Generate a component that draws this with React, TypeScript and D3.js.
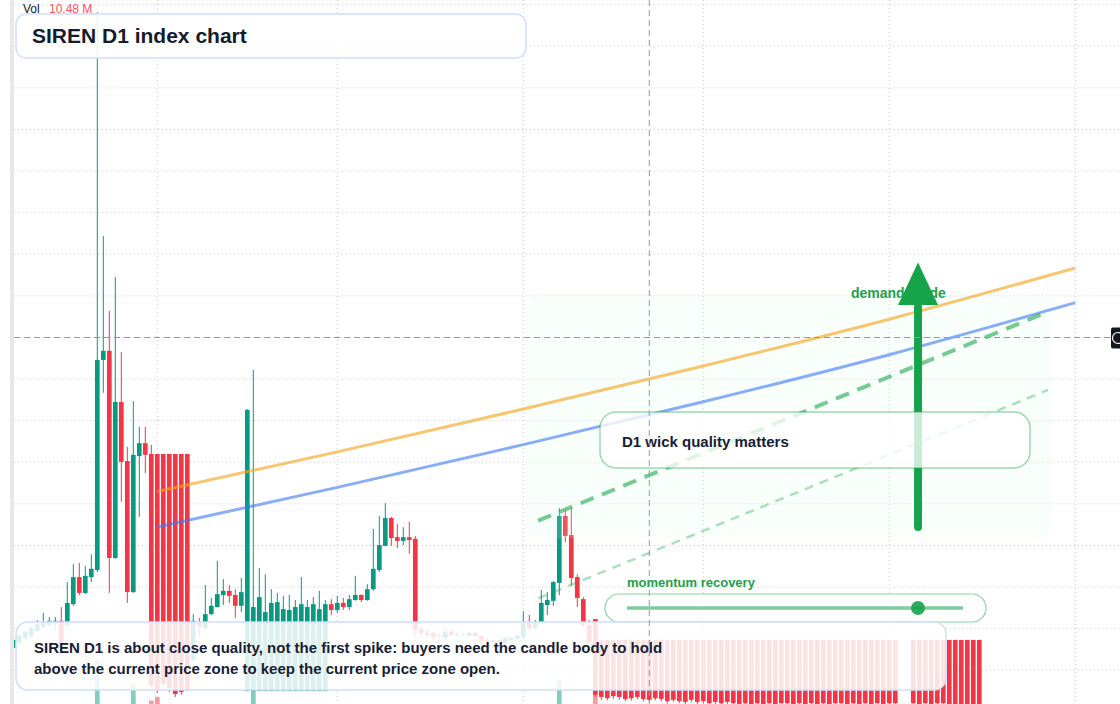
import React, { useEffect } from "react";
import * as d3 from "d3";

const WIDTH = 1120;
const HEIGHT = 704;

// daily candles, first session 2024-08-08 (UTC), one candle per day
const firstDay = "2024-08-08T00:00:00Z";

const opens = [
  25.4, 26.6, 27.8, 28.3, 29.4, 30.4, 30.9, 31.4, 31.9, 30.9,
  35.9, 42.4, 38.6, 42.4, 44.1, 94.6, 96.8, 47.0, 84.5, 70.3,
  38.8, 71.5, 74.6, 72.0, 72.0, 72.0, 72.0, 72.0, 72.0, 72.0,
  22.5, 31.6, 30.2, 33.5, 35.2, 38.1, 39.1, 38.1, 35.5, 15.0,
  15.0, 15.0, 15.0, 15.0, 15.0, 15.0, 15.0, 15.0, 15.0, 15.0,
  15.0, 15.0, 15.0, 35.9, 34.5, 36.2, 35.2, 36.9, 38.1, 36.9,
  39.5, 44.1, 49.9, 56.6, 52.0, 51.1, 52.0, 51.6, 29.9, 29.0,
  29.0, 28.5, 27.8, 29.2, 28.5, 28.5, 28.3, 29.0, 28.3, 27.3,
  26.8, 27.3, 26.4, 27.3, 27.6, 27.8, 31.4, 30.2, 31.6, 35.7,
  36.7, 41.0, 57.1, 52.5, 42.4, 37.1, 30.9, 32.3, 27.3, 27.3,
  27.3, 27.3, 27.3, 27.3, 27.3, 27.3, 27.3, 27.3, 27.3, 27.3,
  27.3, 27.3, 27.3, 27.3, 27.3, 27.3, 27.3, 27.3, 27.3, 27.3,
  27.3, 27.3, 27.3, 27.3, 27.3, 27.3, 27.3, 27.3, 27.3, 27.3,
  27.3, 27.3, 27.3, 27.3, 27.3, 27.3, 27.3, 27.3, 27.3, 27.3,
  27.3, 27.3, 27.3, 27.3, 27.3, 27.3, 27.3, 27.3, 10.0, 10.0,
  27.3, 27.3, 27.3, 27.3, 27.3, 27.3, 27.3, 27.3, 27.3, 27.3,
  27.3, 27.3,
];

const highs = [
  27.8, 28.7, 29.7, 30.6, 32.1, 33.8, 32.8, 32.8, 35.2, 41.2,
  45.5, 45.8, 45.1, 47.9, 178.2, 124.4, 106.4, 114.5, 96.5, 73.7,
  84.7, 78.5, 78.5, 74.2, 72.0, 72.0, 72.0, 72.0, 72.0, 72.0,
  33.5, 32.6, 40.5, 37.4, 46.3, 41.9, 40.5, 39.5, 42.2, 82.8,
  92.2, 44.6, 43.1, 39.5, 38.6, 37.9, 38.1, 36.9, 42.4, 36.9,
  37.6, 39.1, 36.9, 37.1, 37.9, 37.4, 38.1, 42.7, 38.3, 40.7,
  54.0, 57.1, 60.2, 56.9, 55.2, 54.4, 55.7, 52.3, 30.4, 29.7,
  29.2, 28.7, 30.2, 29.7, 29.2, 29.0, 29.2, 29.2, 28.5, 27.8,
  27.3, 27.6, 28.0, 28.0, 28.5, 34.2, 33.3, 32.1, 39.3, 38.8,
  41.5, 59.0, 58.5, 59.0, 43.1, 37.6, 32.1, 32.3, 27.3, 27.3,
  27.3, 27.3, 27.3, 27.3, 27.3, 27.3, 27.3, 27.3, 27.3, 27.3,
  27.3, 27.3, 27.3, 27.3, 27.3, 27.3, 27.3, 27.3, 27.3, 27.3,
  27.3, 27.3, 27.3, 27.3, 27.3, 27.3, 27.3, 27.3, 27.3, 27.3,
  27.3, 27.3, 27.3, 27.3, 27.3, 27.3, 27.3, 27.3, 27.3, 27.3,
  27.3, 27.3, 27.3, 27.3, 27.3, 27.3, 27.3, 27.3, 10.0, 10.0,
  27.3, 27.3, 27.3, 27.3, 27.3, 27.3, 27.3, 27.3, 27.3, 27.3,
  27.3, 27.3,
];

const lows = [
  24.9, 26.1, 27.3, 27.8, 29.0, 29.9, 30.4, 29.7, 25.9, 30.4,
  35.5, 38.1, 38.3, 41.2, 43.6, 86.7, 38.6, 46.8, 60.5, 36.2,
  38.6, 56.9, 67.4, 15.7, 14.6, 16.2, 14.8, 13.6, 14.1, 15.0,
  22.0, 28.0, 29.7, 33.3, 35.1, 35.7, 36.2, 32.6, 34.0, 15.0,
  15.0, 15.0, 15.0, 15.0, 15.0, 15.0, 15.0, 15.0, 15.0, 15.0,
  15.0, 15.0, 15.0, 33.3, 33.8, 34.5, 34.5, 36.7, 36.4, 36.7,
  39.1, 43.6, 49.9, 49.9, 49.4, 50.1, 48.0, 28.3, 28.0, 28.0,
  27.3, 27.8, 27.3, 28.3, 28.0, 28.3, 28.0, 27.8, 26.6, 26.6,
  26.6, 25.9, 26.1, 27.1, 27.3, 27.3, 29.0, 29.7, 31.4, 33.3,
  35.5, 38.1, 50.8, 40.3, 35.2, 30.4, 26.6, 13.6, 12.9, 12.8,
  13.2, 12.9, 12.6, 12.7, 13.0, 12.5, 12.3, 12.8, 12.5, 12.0,
  12.4, 12.1, 11.8, 12.3, 11.9, 12.0, 11.6, 11.8, 11.5, 11.9,
  11.6, 11.4, 11.5, 11.4, 11.6, 11.3, 11.5, 11.4, 11.6, 11.5,
  11.3, 11.6, 11.4, 11.5, 11.3, 11.6, 11.5, 11.4, 11.5, 11.3,
  11.6, 11.4, 11.5, 11.3, 11.6, 11.5, 11.4, 11.6, 10.0, 10.0,
  11.5, 11.4, 11.6, 11.3, 11.5, 11.6, 10.8, 10.8, 10.8, 10.8,
  10.8, 10.8,
];

const closes = [
  27.3, 28.3, 29.2, 30.2, 31.1, 31.6, 31.9, 31.9, 26.4, 36.2,
  42.4, 38.6, 42.7, 44.4, 94.6, 96.8, 47.0, 84.5, 70.1, 38.8,
  71.8, 74.6, 71.8, 16.2, 15.3, 16.7, 15.7, 14.3, 14.8, 15.5,
  31.9, 30.4, 33.5, 35.5, 38.3, 39.1, 37.9, 35.5, 38.8, 82.6,
  35.2, 37.6, 34.0, 36.2, 36.4, 34.7, 34.5, 35.2, 35.9, 35.2,
  35.9, 34.7, 35.9, 34.5, 36.2, 35.2, 37.1, 38.1, 36.9, 39.5,
  44.4, 50.1, 56.6, 51.8, 51.1, 52.0, 51.3, 29.7, 29.0, 28.5,
  28.0, 28.3, 29.2, 28.5, 28.7, 28.6, 29.0, 28.3, 27.1, 27.1,
  27.1, 26.4, 27.8, 27.8, 28.3, 31.4, 30.2, 31.6, 36.2, 36.9,
  41.2, 57.1, 52.3, 42.2, 37.4, 30.9, 26.8, 14.1, 13.6, 13.3,
  13.8, 13.6, 13.1, 13.3, 13.6, 13.1, 12.9, 13.3, 13.1, 12.6,
  12.9, 12.6, 12.4, 12.9, 12.4, 12.6, 12.1, 12.4, 12.1, 12.4,
  12.1, 11.9, 12.1, 11.9, 12.1, 11.9, 12.1, 11.9, 12.1, 12.1,
  11.9, 12.1, 11.9, 12.1, 11.9, 12.1, 11.9, 12.1, 12.1, 11.9,
  12.1, 11.9, 12.1, 11.9, 12.1, 11.9, 12.1, 12.1, 10.0, 10.0,
  12.1, 11.9, 12.1, 11.9, 12.1, 12.1, 11.0, 11.0, 11.0, 11.0,
  11.0, 11.0,
];

// volume in millions
const volumes = [
  3.1, 2.8, 3.4, 2.6, 3.9, 4.2, 3.3, 2.9, 5.1, 4.6,
  5.8, 4.9, 5.3, 4.4, 20.0, 8.7, 8.9, 8.2, 7.4, 8.1,
  15.0, 6.2, 7.1, 11.9, 12.6, 8.4, 8.6, 8.0, 8.3, 7.9,
  4.1, 3.2, 4.6, 3.5, 4.8, 3.1, 2.7, 3.6, 3.9, 8.8,
  19.6, 6.1, 4.7, 4.2, 3.8, 3.5, 3.3, 3.0, 4.4, 3.2,
  3.1, 3.7, 2.9, 2.8, 3.1, 2.6, 2.9, 3.8, 2.5, 3.4,
  5.6, 6.3, 7.1, 5.2, 3.9, 3.1, 3.6, 8.4, 4.2, 3.3,
  2.9, 2.4, 2.7, 2.3, 2.1, 2.2, 2.5, 2.6, 2.8, 2.4,
  2.2, 2.6, 2.9, 2.3, 2.5, 4.6, 3.8, 3.2, 5.4, 4.1,
  5.9, 16.0, 8.1, 8.6, 7.2, 6.4, 8.8, 28.2, 6.9, 6.1,
  5.8, 5.2, 6.0, 5.5, 5.1, 5.7, 10.48, 5.3, 4.9, 5.6,
  5.0, 4.7, 5.4, 4.8, 5.2, 4.6, 5.1, 4.9, 4.5, 5.3,
  4.8, 4.4, 5.0, 4.6, 4.3, 4.9, 4.7, 4.2, 4.8, 4.5,
  4.1, 4.6, 4.4, 4.0, 4.7, 4.3, 4.5, 4.1, 4.6, 4.2,
  4.4, 4.0, 4.5, 4.2, 4.6, 4.1, 4.3, 4.7, 3.9, 4.0,
  4.4, 4.2, 4.6, 4.1, 4.5, 4.3, 4.8, 4.4, 4.6, 4.2,
  4.5, 4.3,
];

const gridPrices = [20, 30, 40, 50, 60, 70, 80, 90, 100, 110, 120, 130, 140, 150, 160, 170, 180];

const crosshairDay = 106;
const crosshairPrice = 100;
const volLabel = "Vol";
const volValue = "10.48 M";

const titleText = "SIREN D1 index chart";
const captionLines = [
  "SIREN D1 is about close quality, not the first spike: buyers need the candle body to hold",
  "above the current price zone to keep the current price zone open.",
];
const wickBoxText = "D1 wick quality matters";
const zoneLabel = "demand guide";
const sliderLabel = "momentum recovery";

type Pt = { date: string; price: number };

const orangeTrend: Pt[] = [
  { date: "2024-09-01T00:00:00Z", price: 63.0 },
  { date: "2024-10-01T00:00:00Z", price: 72.5 },
  { date: "2024-11-01T00:00:00Z", price: 82.8 },
  { date: "2024-12-01T00:00:00Z", price: 93.15 },
  { date: "2025-01-01T00:00:00Z", price: 104.4 },
  { date: "2025-02-01T00:00:00Z", price: 116.7 },
];
const blueTrend: Pt[] = [
  { date: "2024-09-01T00:00:00Z", price: 54.45 },
  { date: "2024-10-01T00:00:00Z", price: 63.97 },
  { date: "2024-11-01T00:00:00Z", price: 74.25 },
  { date: "2024-12-01T00:00:00Z", price: 84.54 },
  { date: "2025-01-01T00:00:00Z", price: 95.87 },
  { date: "2025-02-01T00:00:00Z", price: 108.37 },
];
const strongChannel: Pt[] = [
  { date: "2024-11-03T11:00:00Z", price: 55.96 },
  { date: "2025-01-27T11:00:00Z", price: 106.2 },
];
const weakChannel: Pt[] = [
  { date: "2024-11-03T12:00:00Z", price: 37.31 },
  { date: "2025-01-27T10:00:00Z", price: 87.38 },
];
const zoneCorners: Pt[] = [
  { date: "2024-11-01T11:00:00Z", price: 110.5 },
  { date: "2025-01-28T02:00:00Z", price: 51.8 },
];
const arrowPts: Pt[] = [
  { date: "2025-01-05T19:00:00Z", price: 54.45 },
  { date: "2025-01-05T19:00:00Z", price: 107.8 },
  { date: "2025-01-05T19:00:00Z", price: 118.0 },
];

const FONT = "'Liberation Sans', Arial, Helvetica, sans-serif";
const UP = "#089981";
const DOWN = "#F23645";

export default function App() {
  useEffect(() => {
    document.body.style.margin = "0";
  }, []);

  const t0 = new Date(firstDay).getTime();
  const dayAt = (n: number) => new Date(t0 + n * 86400000);
  const x = d3.scaleUtc().domain([dayAt(0), dayAt(177)]).range([13.3, 1075.3]);
  const y = d3.scaleLinear().domain([20, 180]).range([670.3, 4.7]);
  const yVol = d3.scaleLinear().domain([0, 30]).range([760, 610]);
  const step = x(dayAt(1)) - x(dayAt(0));
  const bodyW = step * 0.78;

  const candles = opens.map((o, i) => ({
    date: dayAt(i),
    o,
    h: highs[i],
    l: lows[i],
    c: closes[i],
    v: volumes[i],
  }));

  const monthLines = d3.utcMonth.range(dayAt(-10), dayAt(190));
  const px = (d: Pt) => x(new Date(d.date));
  const py = (d: Pt) => y(d.price);
  const curve = d3.line<Pt>().x(px).y(py).curve(d3.curveMonotoneX);
  const straight = d3.line<Pt>().x(px).y(py);

  const zx0 = px(zoneCorners[0]);
  const zy0 = py(zoneCorners[0]);
  const zx1 = px(zoneCorners[1]);
  const zy1 = py(zoneCorners[1]);

  const ax = px(arrowPts[0]);
  const aBottom = py(arrowPts[0]);
  const aBase = py(arrowPts[1]);
  const aTip = py(arrowPts[2]);

  const chX = x(dayAt(crosshairDay));
  const chY = y(crosshairPrice);

  return (
    <div style={{ position: "fixed", left: 0, top: 0 }}>
      <svg width={WIDTH} height={HEIGHT} style={{ display: "block", fontFamily: FONT }}>
        <defs>
          <clipPath id="pane">
            <rect x={14} y={0} width={WIDTH - 14} height={HEIGHT} />
          </clipPath>
        </defs>
        <rect width={WIDTH} height={HEIGHT} fill="#ffffff" />
        <g clipPath="url(#pane)">
          {/* grid */}
          {gridPrices.map((p) => (
            <line key={"h" + p} x1={14} x2={WIDTH} y1={y(p)} y2={y(p)} stroke="#c9ccd3" strokeWidth={1} strokeDasharray="1 3" />
          ))}
          {monthLines.map((m) => (
            <line key={"v" + m.getTime()} x1={x(m)} x2={x(m)} y1={0} y2={HEIGHT} stroke="#c9ccd3" strokeWidth={1} strokeDasharray="1 3" />
          ))}
          {/* volume */}
          {candles.map((d, i) => (
            <rect
              key={"vol" + i}
              x={x(d.date) - bodyW / 2}
              width={bodyW}
              y={yVol(d.v)}
              height={yVol(0) - yVol(d.v)}
              fill={d.c >= d.o ? UP : DOWN}
              fillOpacity={0.5}
            />
          ))}
          {/* candles */}
          {candles.map((d, i) => {
            const col = d.c >= d.o ? UP : DOWN;
            const cx = x(d.date);
            const top = Math.min(y(d.o), y(d.c));
            const hgt = Math.max(1, Math.abs(y(d.o) - y(d.c)));
            return (
              <g key={"c" + i}>
                <line x1={cx} x2={cx} y1={y(d.h)} y2={y(d.l)} stroke={col} strokeWidth={1} />
                <rect x={cx - bodyW / 2} width={bodyW} y={top} height={hgt} fill={col} />
              </g>
            );
          })}
          {/* demand zone */}
          <rect x={zx0} y={zy0} width={zx1 - zx0} height={zy1 - zy0} rx={18} fill="#dcfce7" fillOpacity={0.16} />
          {/* trend curves */}
          <path d={curve(orangeTrend) || ""} fill="none" stroke="#f5a623" strokeOpacity={0.65} strokeWidth={3} />
          <path d={curve(blueTrend) || ""} fill="none" stroke="#3b78f0" strokeOpacity={0.6} strokeWidth={3} />
          <path d={straight(strongChannel) || ""} fill="none" stroke="#16a34a" strokeOpacity={0.58} strokeWidth={4} strokeDasharray="14 9" />
          <path d={straight(weakChannel) || ""} fill="none" stroke="#16a34a" strokeOpacity={0.35} strokeWidth={2.5} strokeDasharray="9 7" />
          {/* zone label */}
          <text x={851} y={298} fontSize={14} fontWeight={700} fill="#22a04b">{zoneLabel}</text>
          {/* arrow */}
          <line x1={ax} x2={ax} y1={aBottom} y2={aBase + 2} stroke="#16a34a" strokeWidth={8} strokeLinecap="round" />
          <polygon points={`${ax},${aTip} ${ax - 20},${aBase} ${ax + 20},${aBase}`} fill="#16a34a" />
          {/* wick quality box */}
          <rect x={600} y={412} width={430} height={56} rx={16} fill="#ffffff" fillOpacity={0.78} stroke="#16a34a" strokeOpacity={0.42} strokeWidth={1.5} />
          <text x={622} y={447} fontSize={15} fontWeight={700} fill="#172033">{wickBoxText}</text>
          {/* momentum slider */}
          <text x={627} y={587} fontSize={13} fontWeight={700} fill="#22a04b">{sliderLabel}</text>
          <rect x={605} y={594} width={381} height={28} rx={14} fill="#ffffff" fillOpacity={0.8} stroke="#16a34a" strokeOpacity={0.5} strokeWidth={1.2} />
          <line x1={627} x2={963} y1={608} y2={608} stroke="#16a34a" strokeOpacity={0.55} strokeWidth={3.5} />
          <circle cx={918} cy={608} r={7} fill="#16a34a" fillOpacity={0.9} />
          {/* title */}
          <rect x={16} y={14} width={510} height={44} rx={10} fill="#ffffff" fillOpacity={0.88} stroke="#cfe0f7" strokeWidth={1.5} />
          <text x={32} y={43} fontSize={21} fontWeight={700} fill="#151c2b">{titleText}</text>
          {/* caption */}
          <rect x={16} y={622} width={930} height={68} rx={12} fill="#ffffff" fillOpacity={0.86} stroke="#cfe0f7" strokeWidth={1.5} />
          {captionLines.map((t, i) => (
            <text key={"cap" + i} x={34} y={653 + i * 21} fontSize={15} fontWeight={700} fill="#172033">{t}</text>
          ))}
          {/* crosshair */}
          <line x1={14} x2={1111} y1={chY} y2={chY} stroke="#9598a1" strokeWidth={1} strokeDasharray="6 4" />
          <line x1={chX} x2={chX} y1={0} y2={HEIGHT} stroke="#9598a1" strokeWidth={1} strokeDasharray="6 4" />
        </g>
        {/* legend */}
        <text x={23} y={13} fontSize={12} fill="#131722">{volLabel}</text>
        <text x={49} y={13} fontSize={12} fill="#f7525f">{volValue}</text>
        {/* left strip */}
        <rect x={10} y={0} width={4} height={HEIGHT} fill="#e8e8e9" />
        {/* price label stub */}
        <rect x={1111} y={chY - 10} width={14} height={21} rx={2} fill="#131722" />
        <circle cx={1118} cy={chY + 0.5} r={5.5} fill="none" stroke="#ffffff" strokeWidth={1.2} />
      </svg>
    </div>
  );
}
